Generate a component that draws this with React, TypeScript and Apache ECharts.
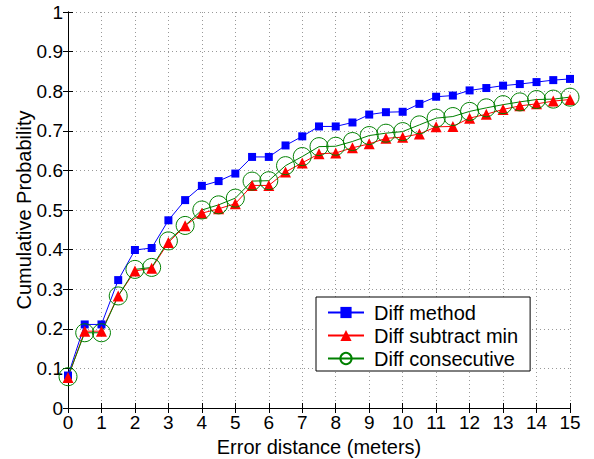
import React, { useEffect, useRef } from "react";
import * as echarts from "echarts";

const xValues = [0, 0.5, 1, 1.5, 2, 2.5, 3, 3.5, 4, 4.5, 5, 5.5, 6, 6.5, 7, 7.5, 8, 8.5, 9, 9.5, 10, 10.5, 11, 11.5, 12, 12.5, 13, 13.5, 14, 14.5, 15];
const diffMethod = [0.082, 0.211, 0.211, 0.323, 0.399, 0.404, 0.474, 0.525, 0.561, 0.573, 0.592, 0.634, 0.634, 0.663, 0.686, 0.711, 0.711, 0.721, 0.741, 0.747, 0.748, 0.768, 0.786, 0.789, 0.802, 0.808, 0.814, 0.818, 0.823, 0.828, 0.831];
const diffSubtractMin = [0.077, 0.194, 0.194, 0.283, 0.346, 0.353, 0.418, 0.46, 0.492, 0.503, 0.516, 0.562, 0.562, 0.596, 0.619, 0.642, 0.644, 0.657, 0.667, 0.681, 0.684, 0.692, 0.71, 0.711, 0.732, 0.742, 0.754, 0.763, 0.768, 0.775, 0.779];
const diffConsecutive = [0.079, 0.19, 0.19, 0.283, 0.35, 0.355, 0.422, 0.461, 0.5, 0.513, 0.53, 0.573, 0.574, 0.612, 0.635, 0.66, 0.661, 0.673, 0.688, 0.694, 0.698, 0.715, 0.732, 0.736, 0.749, 0.758, 0.766, 0.773, 0.779, 0.78, 0.785];
const seriesNames = ["Diff method", "Diff subtract min", "Diff consecutive"];

const FONT = "'Liberation Sans', Arial, Helvetica, sans-serif";

const pairs = (ys: number[]) => xValues.map((x, i) => [x, ys[i]]);

export default function App() {
  const ref = useRef<HTMLDivElement>(null);
  useEffect(() => {
    if (!ref.current) return;
    const chart = echarts.init(ref.current, undefined, { renderer: "svg" });
    const axisCommon = {
      axisLine: { show: true, lineStyle: { color: "#000", width: 1 } },
      axisTick: { show: true, inside: true, length: 5, lineStyle: { color: "#000" } },
    };
    const gridLine = { show: true, lineStyle: { color: "#999", type: [1, 3], width: 1 } };
    chart.setOption({
      animation: false,
      backgroundColor: "#fff",
      grid: { left: 68, right: 24, top: 12, bottom: 51, containLabel: false, outerBoundsMode: "none" },
      legend: {
        orient: "vertical",
        left: 316,
        top: 297,
        backgroundColor: "#fff",
        borderColor: "#000",
        borderWidth: 1,
        borderRadius: 0,
        padding: [5, 12, 2, 11],
        itemGap: 2,
        itemWidth: 36,
        itemHeight: 14,
        textStyle: { fontFamily: FONT, fontSize: 20, lineHeight: 21, color: "#000", padding: [0, 0, 0, 5] },
        data: seriesNames,
      },
      xAxis: [
        {
          type: "value",
          min: 0,
          max: 15,
          interval: 1,
          name: "Error distance (meters)",
          nameLocation: "middle",
          nameGap: 29,
          nameMoveOverlap: false,
          nameTextStyle: { fontFamily: FONT, fontSize: 20, color: "#000" },
          axisLabel: { fontFamily: FONT, fontSize: 19, color: "#000", margin: 5 },
          splitLine: gridLine,
          ...axisCommon,
        },
        {
          type: "value",
          position: "top",
          min: 0,
          max: 15,
          interval: 1,
          axisLabel: { show: false },
          splitLine: { show: false },
          ...axisCommon,
        },
      ],
      yAxis: [
        {
          type: "value",
          min: 0,
          max: 1,
          interval: 0.1,
          name: "Cumulative Probability",
          nameLocation: "middle",
          nameGap: 34,
          nameMoveOverlap: false,
          nameTextStyle: { fontFamily: FONT, fontSize: 20, color: "#000" },
          axisLabel: { fontFamily: FONT, fontSize: 19, color: "#000", margin: 5 },
          splitLine: gridLine,
          ...axisCommon,
        },
        {
          type: "value",
          position: "right",
          min: 0,
          max: 1,
          interval: 0.1,
          axisLabel: { show: false },
          splitLine: { show: false },
          ...axisCommon,
        },
      ],
      series: [
        {
          name: seriesNames[0],
          type: "line",
          data: pairs(diffMethod),
          symbol: "rect",
          symbolSize: 8,
          lineStyle: { color: "#0000ff", width: 1 },
          itemStyle: { color: "#0000ff" },
        },
        {
          name: seriesNames[1],
          type: "line",
          data: pairs(diffSubtractMin),
          symbol: "triangle",
          symbolSize: 11,
          lineStyle: { color: "#ff0000", width: 1 },
          itemStyle: { color: "#ff0000" },
        },
        {
          name: seriesNames[2],
          type: "line",
          data: pairs(diffConsecutive),
          symbol: "circle",
          symbolSize: 18,
          lineStyle: { color: "#008000", width: 1 },
          itemStyle: { color: "transparent", borderColor: "#008000", borderWidth: 1 },
        },
      ],
    });
    return () => chart.dispose();
  }, []);
  return <div ref={ref} style={{ width: 594, height: 459, position: "absolute", left: 0, top: 0 }} />;
}
